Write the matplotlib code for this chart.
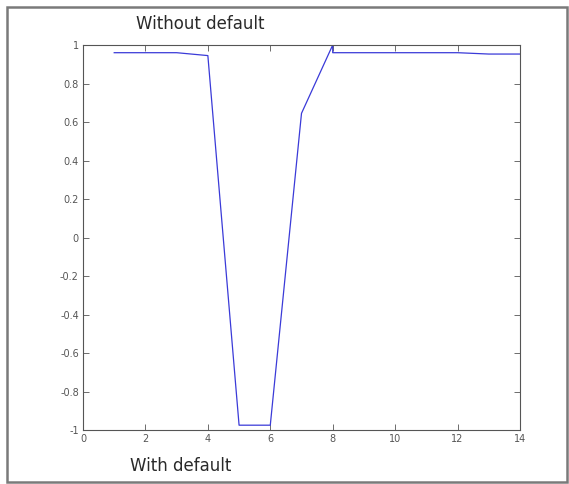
import matplotlib.pyplot as plt
from matplotlib.patches import Rectangle

# Values
x = [1, 2, 3, 4, 5, 6, 7, 8, 8, 9, 10, 11, 12, 13, 14]
y = [0.96, 0.96, 0.96, 0.945, -0.975, -0.975, 0.645, 1.0, 0.96, 0.96, 0.96, 0.96, 0.96, 0.953, 0.953]
xticks = [0, 2, 4, 6, 8, 10, 12, 14]
yticks = [-1, -0.8, -0.6, -0.4, -0.2, 0, 0.2, 0.4, 0.6, 0.8, 1]
ytick_labels = ['-1', '-0.8', '-0.6', '-0.4', '-0.2', '0', '0.2', '0.4', '0.6', '0.8', '1']

W, H = 569, 484
fig = plt.figure(figsize=(W / 100, H / 100), dpi=100)

# outer grey frame
fig.patches.append(Rectangle((7 / W, 2 / H), 560 / W, 475 / H, transform=fig.transFigure,
                             fill=False, edgecolor='#7a7a7a', linewidth=1.8))

ax = fig.add_axes([83 / W, 1 - 430 / H, (520 - 83) / W, (430 - 45) / H])
ax.plot(x, y, color='#3a3ad8', linewidth=0.9)

ax.set_xlim(0, 14)
ax.set_ylim(-1, 1)
ax.set_xticks(xticks)
ax.set_yticks(yticks)
ax.set_yticklabels(ytick_labels)
ax.tick_params(direction='in', top=True, right=True, length=4, width=0.6,
               labelsize=7, colors='#555555', pad=3)
for s in ax.spines.values():
    s.set_color('#555555')
    s.set_linewidth(0.8)

fig.text(200 / W, 1 - 24 / H, 'Without default', ha='center', va='center',
         fontsize=12, color='#2a2a2a')
fig.text(181 / W, 1 - 466 / H, 'With default', ha='center', va='center',
         fontsize=12, color='#2a2a2a')

fig.savefig('out.png', dpi=100)
